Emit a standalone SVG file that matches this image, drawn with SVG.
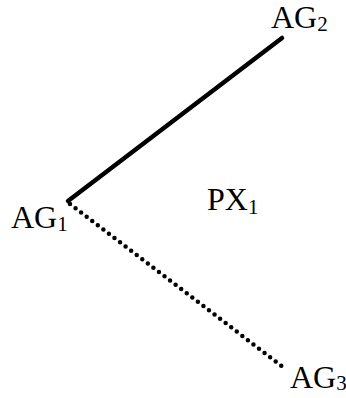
<svg xmlns="http://www.w3.org/2000/svg" width="346" height="398" viewBox="0 0 346 398">
<style>
.lbl{font-family:"Liberation Serif","Times New Roman",serif;font-size:32px;fill:#000}
.sub{font-size:21px}
.solid{stroke:#000;stroke-width:4.5;fill:none;stroke-linecap:round}
.dot{stroke:#000;stroke-width:4.5;fill:none;stroke-linecap:round;stroke-dasharray:0 7}
</style>
<rect width="346" height="398" fill="#fff"/>
<g id="connectors">
<line class="solid" x1="68" y1="201" x2="282" y2="38"/>
<line class="dot" x1="70" y1="204" x2="283" y2="367"/>
</g>
<g id="AG1"><text class="lbl" x="11" y="228">AG<tspan class="sub" dy="3">1</tspan></text></g>
<g id="AG2"><text class="lbl" x="271" y="28">AG<tspan class="sub" dy="3">2</tspan></text></g>
<g id="AG3"><text class="lbl" x="290" y="388">AG<tspan class="sub" dy="2">3</tspan></text></g>
<g id="PX1"><text class="lbl" x="207" y="210">PX<tspan class="sub" dy="4">1</tspan></text></g>
</svg>
